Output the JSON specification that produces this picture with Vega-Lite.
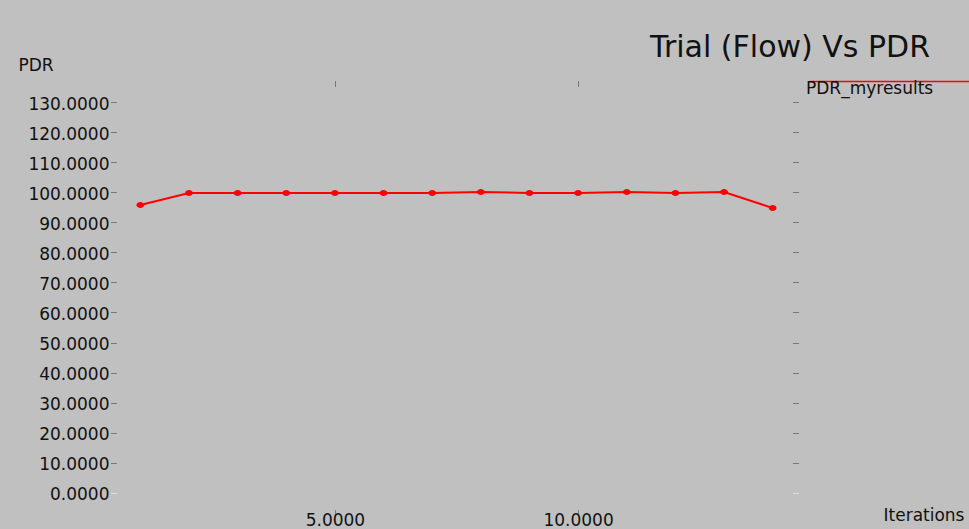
{
  "$schema": "https://vega.github.io/schema/vega-lite/v6.json",
  "width": 681,
  "height": 427,
  "autosize": {"type": "none"},
  "padding": {"left": 116, "top": 83, "right": 172, "bottom": 19},
  "background": "#c0c0c0",
  "config": {
    "view": {"stroke": null, "fill": "#c0c0c0"},
    "font": "DejaVu Sans"
  },
  "title": {
    "text": "Trial (Flow) Vs PDR",
    "anchor": "end",
    "frame": "group",
    "dx": 133,
    "dy": 19,
    "offset": 12,
    "fontSize": 30,
    "fontWeight": "normal",
    "font": "DejaVu Sans",
    "color": "#111111"
  },
  "data": {
    "values": [
      {"iteration": 1, "pdr": 95.8},
      {"iteration": 2, "pdr": 99.8},
      {"iteration": 3, "pdr": 99.8},
      {"iteration": 4, "pdr": 99.8},
      {"iteration": 5, "pdr": 99.8},
      {"iteration": 6, "pdr": 99.8},
      {"iteration": 7, "pdr": 99.8},
      {"iteration": 8, "pdr": 100.1},
      {"iteration": 9, "pdr": 99.8},
      {"iteration": 10, "pdr": 99.8},
      {"iteration": 11, "pdr": 100.1},
      {"iteration": 12, "pdr": 99.8},
      {"iteration": 13, "pdr": 100.1},
      {"iteration": 14, "pdr": 94.8}
    ]
  },
  "layer": [
    {
      "mark": {"type": "line", "strokeWidth": 2},
      "encoding": {
        "x": {
          "field": "iteration",
          "type": "quantitative",
          "scale": {"domain": [0.5, 14.5], "nice": false, "zero": false},
          "axis": {
            "orient": "bottom",
            "values": [5, 10],
            "format": ".4f",
            "grid": false,
            "domain": false,
            "tickSize": 5,
            "tickColor": "#333333",
            "tickDash": [1, 1],
            "labelFont": "DejaVu Sans",
            "labelFontSize": 17,
            "labelColor": "#111111",
            "labelBaseline": "bottom",
            "labelPadding": 14,
            "title": "Iterations",
            "titleFont": "DejaVu Sans",
            "titleFontSize": 17,
            "titleFontWeight": "normal",
            "titleColor": "#111111",
            "titleAlign": "left",
            "titleBaseline": "alphabetic",
            "titleX": 767,
            "titleY": 10
          }
        },
        "y": {
          "field": "pdr",
          "type": "quantitative",
          "scale": {"domain": [-5.76, 136.4], "nice": false, "zero": false},
          "axis": {
            "orient": "left",
            "values": [0, 10, 20, 30, 40, 50, 60, 70, 80, 90, 100, 110, 120, 130],
            "format": ".4f",
            "grid": false,
            "domain": false,
            "tickSize": 5,
            "tickColor": {"condition": {"test": "datum.value == 0", "value": "#ffffff"}, "value": "#333333"},
            "tickDash": [1, 1],
            "labelFont": "DejaVu Sans",
            "labelFontSize": 17,
            "labelColor": "#111111",
            "labelPadding": 2,
            "labelOffset": 2,
            "title": "PDR",
            "titleFont": "DejaVu Sans",
            "titleFontSize": 17,
            "titleFontWeight": "normal",
            "titleColor": "#111111",
            "titleAngle": 0,
            "titleAlign": "left",
            "titleBaseline": "alphabetic",
            "titleX": -98,
            "titleY": -13
          }
        },
        "color": {
          "datum": "PDR_myresults",
          "type": "nominal",
          "scale": {"range": ["#ff0000"]},
          "legend": {
            "title": null,
            "orient": "none",
            "legendX": 672,
            "legendY": -3,
            "padding": 0,
            "symbolType": "M14,-7L200,-7",
            "symbolSize": 4,
            "symbolStrokeWidth": 1.5,
            "symbolStrokeColor": "#ff0000",
            "symbolFillColor": "transparent",
            "labelOffset": 1,
            "labelFont": "DejaVu Sans",
            "labelFontSize": 17,
            "labelColor": "#111111",
            "labelLimit": 300
          }
        }
      }
    },
    {
      "mark": {"type": "point", "filled": true, "opacity": 1, "color": "#ff0000", "size": 36, "shape": "M-1.3,0A1.3,1,0,1,1,1.3,0A1.3,1,0,1,1,-1.3,0Z"},
      "encoding": {
        "x": {
          "field": "iteration",
          "type": "quantitative",
          "scale": {"domain": [0.5, 14.5], "nice": false, "zero": false},
          "axis": {
            "orient": "top",
            "values": [5, 10],
            "labels": false,
            "grid": false,
            "domain": false,
            "tickSize": 5,
            "offset": -3,
            "tickColor": "#333333",
            "tickDash": [1, 1],
            "title": null
          }
        },
        "y": {
          "field": "pdr",
          "type": "quantitative",
          "scale": {"domain": [-5.76, 136.4], "nice": false, "zero": false},
          "axis": {
            "orient": "right",
            "values": [0, 10, 20, 30, 40, 50, 60, 70, 80, 90, 100, 110, 120, 130],
            "labels": false,
            "grid": false,
            "domain": false,
            "tickSize": 5,
            "offset": -4,
            "tickColor": {"condition": {"test": "datum.value == 0", "value": "#ffffff"}, "value": "#333333"},
            "tickDash": [1, 1],
            "title": null
          }
        }
      }
    }
  ],
  "resolve": {"scale": {"x": "independent", "y": "independent"}}
}
